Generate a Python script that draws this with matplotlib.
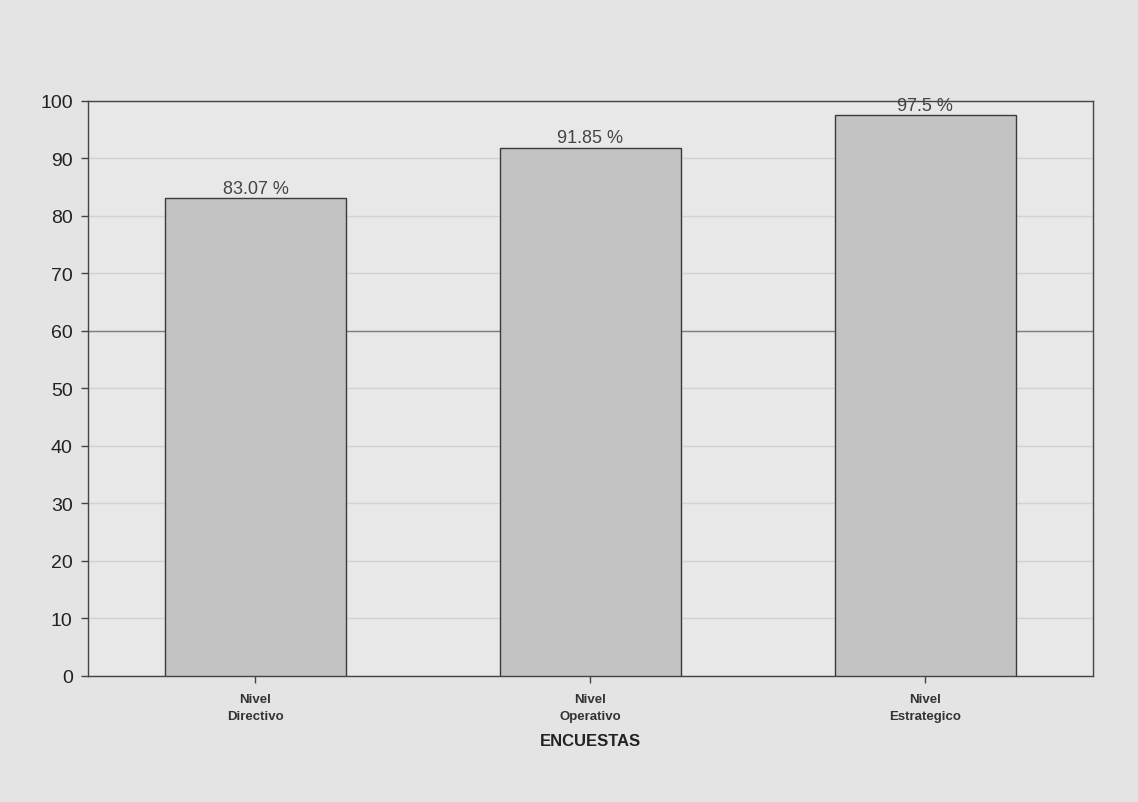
import numpy as np
import matplotlib.pyplot as plt

plt.rcParams['font.family'] = ['Liberation Sans', 'DejaVu Sans']

# niveles encuestados y porcentaje obtenido
categorias = ['Nivel\nDirectivo', 'Nivel\nOperativo', 'Nivel\nEstrategico']
porcentajes = [83.07, 91.85, 97.5]
etiquetas = ['83.07 %', '91.85 %', '97.5 %']
yticks = list(range(0, 101, 10))

fig = plt.figure(figsize=(11.38, 8.03), dpi=100)
fig.patch.set_facecolor('#e4e4e4')
ax = fig.add_axes([0.0773, 0.157, 0.883, 0.716])
ax.set_facecolor('#e8e8e8')
ax.set_axisbelow(True)

x = np.arange(len(categorias))
bars = ax.bar(x, porcentajes, width=0.54, color='#c3c3c3',
              edgecolor='#3a3a3a', linewidth=1.0, zorder=3)

for b, txt in zip(bars, etiquetas):
    ax.text(b.get_x() + b.get_width() / 2, b.get_height() + 0.3, txt,
            ha='center', va='bottom', fontsize=13, color='#444444', zorder=4)

ax.set_xlim(-0.5, len(categorias) - 0.5)
ax.set_ylim(0, 100)
ax.set_yticks(yticks)
ax.set_yticklabels([str(t) for t in yticks], fontsize=14, color='#222222')
ax.set_xticks(x)
ax.set_xticklabels(categorias, fontsize=9.5, fontweight='bold', color='#333333',
                   linespacing=1.6)
ax.set_xlabel('ENCUESTAS', fontsize=12, fontweight='bold', color='#222222', labelpad=8)

ax.yaxis.grid(True, color='#d2d2d2', linewidth=1.0)
ax.axhline(60, color='#7e7e7e', linewidth=1.0, zorder=2)
ax.tick_params(axis='y', length=5, width=1, color='#444444', pad=6)
ax.tick_params(axis='x', length=5, width=1, color='#444444', pad=7)
for s in ax.spines.values():
    s.set_color('#444444')
    s.set_linewidth(1.0)

fig.savefig('out.png', dpi=100, facecolor=fig.get_facecolor())
